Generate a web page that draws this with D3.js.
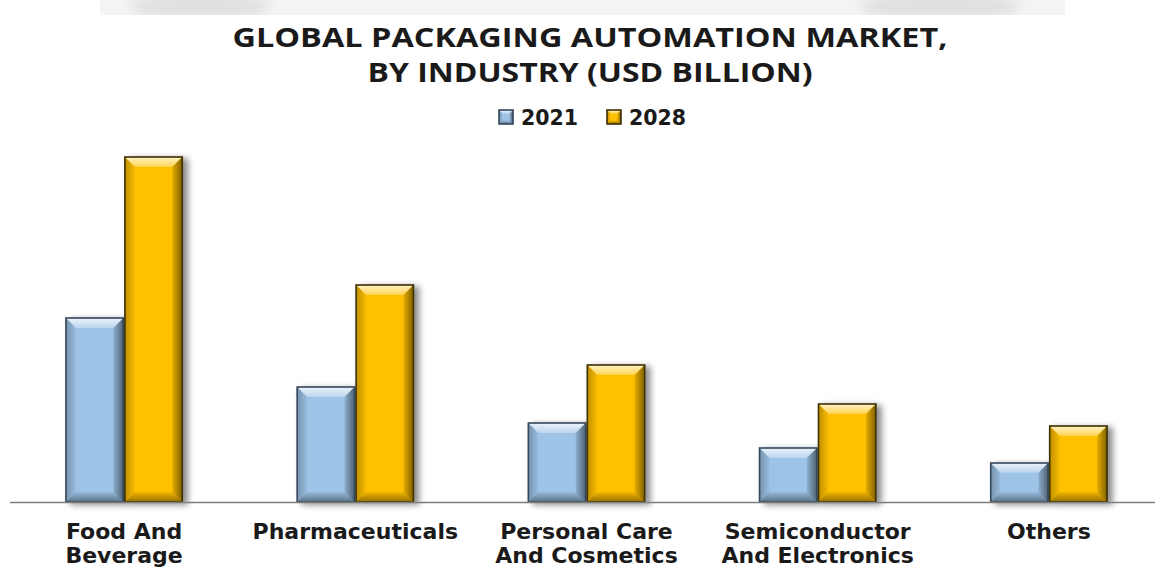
<!DOCTYPE html>
<html>
<head>
<meta charset="utf-8">
<script src="https://cdn.jsdelivr.net/npm/d3@7/dist/d3.min.js"></script>
<style>
  html, body { margin: 0; padding: 0; background: #fff; }
  svg { display: block; }
</style>
</head>
<body>
<svg id="chart" width="1155" height="570"></svg>
<script>
// Global packaging automation market by industry (USD billion)
const categories = ["Food And Beverage", "Pharmaceuticals", "Personal Care And Cosmetics", "Semiconductor And Electronics", "Others"];
const categoryLines = [["Food And", "Beverage"], ["Pharmaceuticals"], ["Personal Care", "And Cosmetics"], ["Semiconductor", "And Electronics"], ["Others"]];
const seriesNames = ["2021", "2028"];
const values2021 = [18.4, 11.5, 7.9, 5.4, 3.9];
const values2028 = [34.5, 21.7, 13.7, 9.8, 7.6];
const titleLines = ["GLOBAL PACKAGING AUTOMATION MARKET,", "BY INDUSTRY (USD BILLION)"];

const palette = {
  "2021": { fill: "#9dc3e6", light: "#d6ebfb", edge: "#34475a" },
  "2028": { fill: "#ffc000", light: "#ffe27a", edge: "#3d3000" }
};

const svg = d3.select("#chart");
const W = 1155, H = 570;
const baseY = 502;

const defs = svg.append("defs");
const shadow = defs.append("filter").attr("id", "barShadow")
  .attr("x", "-20%").attr("y", "-10%").attr("width", "160%").attr("height", "130%");
shadow.append("feDropShadow").attr("dx", 5).attr("dy", 2).attr("stdDeviation", 3)
  .attr("flood-color", "#000").attr("flood-opacity", 0.45);

const soft = defs.append("filter").attr("id", "soft");
soft.append("feGaussianBlur").attr("stdDeviation", 6);

// faint header strip
const strip = svg.append("g");
strip.append("rect").attr("x", 100).attr("y", 0).attr("width", 965).attr("height", 15).attr("fill", "#f4f4f4");
const clip = defs.append("clipPath").attr("id", "stripClip");
clip.append("rect").attr("x", 0).attr("y", 0).attr("width", W).attr("height", 15);
const blobs = strip.append("g").attr("clip-path", "url(#stripClip)");
blobs.append("g").attr("filter", "url(#soft)").selectAll("ellipse")
  .data([[200, 6, 70, 14], [940, 6, 80, 14]])
  .join("ellipse")
  .attr("cx", d => d[0]).attr("cy", d => d[1]).attr("rx", d => d[2]).attr("ry", d => d[3])
  .attr("fill", "#e0e0e0");

// title
svg.append("g").selectAll("text").data(titleLines).join("text")
  .attr("x", 590).attr("y", (d, i) => 47 + i * 35)
  .attr("text-anchor", "middle")
  .attr("font-family", "'Open Sans', 'Liberation Sans', sans-serif")
  .attr("font-weight", 700).attr("font-size", 26.5)
  .attr("textLength", (d, i) => i === 0 ? 715 : 445)
  .attr("lengthAdjust", "spacingAndGlyphs")
  .attr("fill", "#1a1a1a")
  .text(d => d);

// scales
const x0 = d3.scaleBand().domain(categories).range([8.5, 1164.5]).paddingInner(0.49).paddingOuter(0.245);
const x1 = d3.scaleBand().domain(seriesNames).range([0, x0.bandwidth()]).padding(0);
const y = d3.scaleLinear().domain([0, 36]).range([baseY, 142]);

// gradients for bevel faces
function grad(id, x2, y2, stops) {
  const g = defs.append("linearGradient").attr("id", id)
    .attr("x1", 0).attr("y1", 0).attr("x2", x2).attr("y2", y2);
  stops.forEach(s => g.append("stop").attr("offset", s[0]).attr("stop-color", s[1]).attr("stop-opacity", s[2]));
}
grad("topFace", 0, 1, [[0, "#fff", 0.8], [1, "#fff", 0.3]]);
grad("leftFace", 1, 0, [[0, "#000", 0.25], [1, "#000", 0.03]]);
grad("rightFace", 1, 0, [[0, "#000", 0.1], [1, "#000", 0.5]]);
grad("bottomFace", 0, 1, [[0, "#000", 0.05], [1, "#000", 0.42]]);

function bevelBar(g, x, yTop, w, h, col, b) {
  g.append("rect").attr("x", x).attr("y", yTop).attr("width", w).attr("height", h).attr("fill", col.fill);
  const pts = arr => arr.map(p => p.join(",")).join(" ");
  g.append("polygon").attr("points", pts([[x, yTop], [x + w, yTop], [x + w - b, yTop + b], [x + b, yTop + b]])).attr("fill", "url(#topFace)");
  g.append("polygon").attr("points", pts([[x, yTop], [x + b, yTop + b], [x + b, yTop + h - b], [x, yTop + h]])).attr("fill", "url(#leftFace)");
  g.append("polygon").attr("points", pts([[x + w, yTop], [x + w, yTop + h], [x + w - b, yTop + h - b], [x + w - b, yTop + b]])).attr("fill", "url(#rightFace)");
  g.append("polygon").attr("points", pts([[x, yTop + h], [x + b, yTop + h - b], [x + w - b, yTop + h - b], [x + w, yTop + h]])).attr("fill", "url(#bottomFace)");
  g.append("rect").attr("x", x).attr("y", yTop).attr("width", w).attr("height", h)
    .attr("fill", "none").attr("stroke", col.edge).attr("stroke-width", 1.6);
}

// bars
const rows = categories.map((c, i) => ({ cat: c, vals: [values2021[i], values2028[i]] }));
const groups = svg.append("g").selectAll("g").data(rows).join("g")
  .attr("transform", d => `translate(${x0(d.cat)},0)`);
groups.each(function (d) {
  const g = d3.select(this);
  seriesNames.forEach((s, k) => {
    const bx = x1(s), by = y(d.vals[k]), bh = baseY - by, bw = x1.bandwidth();
    const bg = g.append("g").attr("filter", "url(#barShadow)");
    bevelBar(bg, bx + 0.8, by, bw - 1.6, bh, palette[s], Math.min(10, bh / 4));
  });
});

// baseline
svg.append("line").attr("x1", 10).attr("x2", W).attr("y1", baseY + 0.5).attr("y2", baseY + 0.5)
  .attr("stroke", "#7f7f7f").attr("stroke-width", 1.5);

// category labels
const labels = svg.append("g").selectAll("text").data(rows).join("text")
  .attr("text-anchor", "middle")
  .attr("font-family", "'DejaVu Sans', Verdana, sans-serif")
  .attr("font-weight", 700).attr("font-size", 22)
  .attr("fill", "#1a1a1a");
labels.each(function (d, i) {
  const t = d3.select(this);
  const cx = x0(d.cat) + x0.bandwidth() / 2;
  categoryLines[i].forEach((ln, j) => {
    t.append("tspan").attr("x", cx).attr("y", 539 + j * 24).text(ln);
  });
});

// legend
const legend = svg.append("g");
const legendItems = [{ s: "2021", x: 499 }, { s: "2028", x: 607 }];
legendItems.forEach(it => {
  const g = legend.append("g");
  bevelBar(g, it.x, 110, 14, 14, palette[it.s], 3.5);
  g.append("text").attr("x", it.x + 22).attr("y", 125)
    .attr("font-family", "'DejaVu Sans', Verdana, sans-serif")
    .attr("font-weight", 700).attr("font-size", 20.5).attr("fill", "#1a1a1a")
    .text(it.s);
});
</script>
</body>
</html>
